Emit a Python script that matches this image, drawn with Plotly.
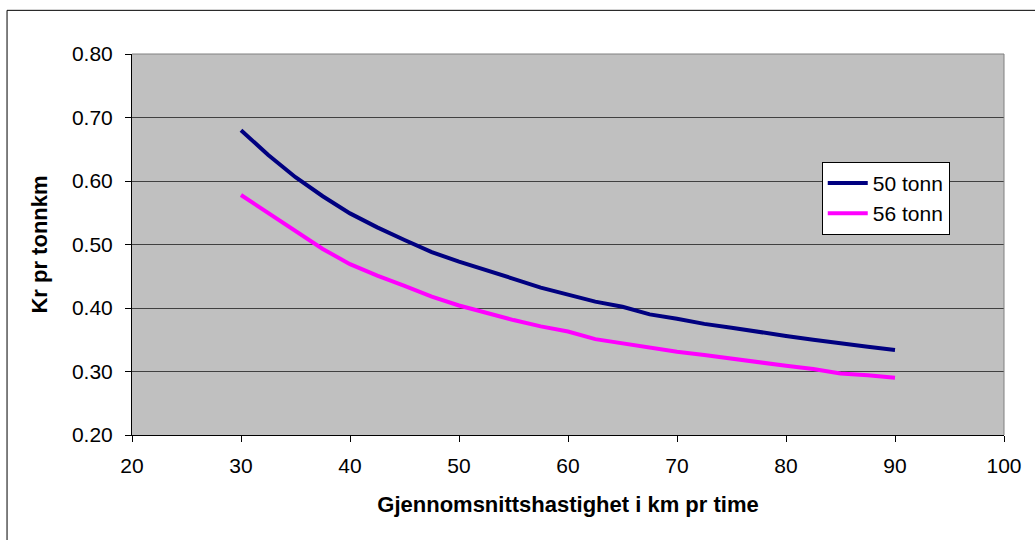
import plotly.graph_objects as go

# Average speed (km/h)
speed = [30, 32.5, 35, 37.5, 40, 42.5, 45, 47.5, 50, 52.5, 55, 57.5, 60,
         62.5, 65, 67.5, 70, 72.5, 75, 77.5, 80, 82.5, 85, 87.5, 90]

# Cost in NOK per tonne-km
cost_50 = [0.680, 0.641, 0.606, 0.576, 0.549, 0.527, 0.507, 0.488, 0.473,
           0.460, 0.446, 0.432, 0.421, 0.410, 0.402, 0.390, 0.383, 0.375,
           0.369, 0.362, 0.356, 0.350, 0.344, 0.339, 0.334]
cost_56 = [0.578, 0.550, 0.521, 0.493, 0.469, 0.451, 0.435, 0.418, 0.404,
           0.392, 0.381, 0.371, 0.363, 0.351, 0.344, 0.337, 0.331, 0.326,
           0.320, 0.315, 0.309, 0.304, 0.297, 0.294, 0.290]

series_names = ["50 tonn", "56 tonn"]
x_title = "Gjennomsnittshastighet i km pr time"
y_title = "Kr pr tonnkm"

FONT = "Arial, Liberation Sans, sans-serif"
TICK_SIZE = 21
TITLE_SIZE = 22

fig = go.Figure()
fig.add_trace(go.Scatter(x=speed, y=cost_50, name=series_names[0], mode="lines",
                         line=dict(color="#000080", width=4)))
fig.add_trace(go.Scatter(x=speed, y=cost_56, name=series_names[1], mode="lines",
                         line=dict(color="#FF00FF", width=4)))

fig.update_layout(
    width=1035, height=540,
    margin=dict(l=132, r=31, t=54, b=105),
    paper_bgcolor="white",
    plot_bgcolor="#C0C0C0",
    font=dict(family=FONT, size=TICK_SIZE, color="black"),
    showlegend=True,
    legend=dict(x=0.791, y=0.717, xanchor="left", yanchor="top",
                bgcolor="white", bordercolor="black", borderwidth=1,
                font=dict(family=FONT, size=TICK_SIZE, color="black"),
                tracegroupgap=0, itemwidth=40),
    xaxis=dict(range=[20, 100], tickvals=[20, 30, 40, 50, 60, 70, 80, 90, 100],
               showgrid=False, zeroline=False,
               showline=True, linecolor="black", linewidth=1,
               ticks="outside", ticklen=6, tickcolor="black",
               ticklabelstandoff=6,
               tickfont=dict(family=FONT, size=TICK_SIZE),
               title=dict(text="<b>" + x_title + "</b>", standoff=20,
                          font=dict(family=FONT, size=TITLE_SIZE))),
    yaxis=dict(range=[0.2, 0.8], tickvals=[0.2, 0.3, 0.4, 0.5, 0.6, 0.7, 0.8],
               tickformat=".2f",
               showgrid=True, gridcolor="#404040", gridwidth=1,
               zeroline=False,
               showline=True, linecolor="black", linewidth=1,
               ticks="outside", ticklen=6, tickcolor="black",
               ticklabelstandoff=8,
               tickfont=dict(family=FONT, size=TICK_SIZE),
               title=dict(text="<b>" + y_title + "</b>", standoff=18,
                          font=dict(family=FONT, size=TITLE_SIZE))),
    shapes=[
        # plot-area frame (top and right edges)
        dict(type="line", xref="paper", yref="paper", x0=0, x1=1, y0=1, y1=1,
             line=dict(color="#808080", width=1)),
        dict(type="line", xref="paper", yref="paper", x0=1, x1=1, y0=0, y1=1,
             line=dict(color="#808080", width=1)),
        # chart border
        dict(type="rect", xref="paper", yref="paper",
             x0=-0.1433, x1=1.2, y0=-0.5, y1=1.1146,
             line=dict(color="black", width=1), layer="below"),
    ],
)

fig.write_html("out.html")
